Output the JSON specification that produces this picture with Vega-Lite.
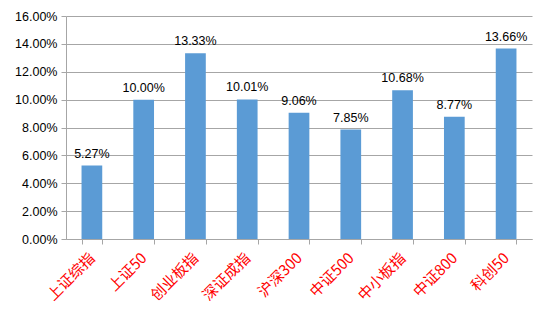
{
  "$schema": "https://vega.github.io/schema/vega-lite/v6.json",
  "width": 466,
  "height": 223,
  "autosize": {"type": "none"},
  "padding": {"left": 66, "top": 16, "right": 18, "bottom": 72},
  "background": "#ffffff",
  "data": {"values": [
    {"name": "上证综指", "value": 0.0527},
    {"name": "上证50", "value": 0.1000},
    {"name": "创业板指", "value": 0.1333},
    {"name": "深证成指", "value": 0.1001},
    {"name": "沪深300", "value": 0.0906},
    {"name": "中证500", "value": 0.0785},
    {"name": "中小板指", "value": 0.1068},
    {"name": "中证800", "value": 0.0877},
    {"name": "科创50", "value": 0.1366}
  ]},
  "encoding": {
    "x": {"field": "name", "type": "nominal", "sort": null,
      "scale": {"paddingInner": 0.6, "paddingOuter": 0.3},
      "axis": {"title": null, "labelAngle": -45, "labelAlign": "right", "labelBaseline": "middle",
        "labelColor": "#ff0000", "labelFont": "Noto Sans CJK SC", "labelFontSize": 15,
        "labelPadding": 11, "tickBand": "extent", "tickSize": 5, "tickColor": "#a6a6a6",
        "domainColor": "#a6a6a6", "grid": false}},
    "y": {"field": "value", "type": "quantitative",
      "scale": {"domain": [0, 0.16], "nice": false},
      "axis": {"title": null, "format": ".2%", "values": [0, 0.02, 0.04, 0.06, 0.08, 0.1, 0.12, 0.14, 0.16],
        "labelFont": "Liberation Sans", "labelFontSize": 12.5, "labelColor": "#000000",
        "labelPadding": 4, "tickSize": 5, "tickColor": "#a6a6a6", "domainColor": "#a6a6a6",
        "gridColor": "#a6a6a6", "grid": true}}
  },
  "layer": [
    {"mark": {"type": "bar", "color": "#5b9bd5"}},
    {"mark": {"type": "text", "dy": -12, "font": "Liberation Sans", "fontSize": 12.5, "color": "#000000"},
      "encoding": {"text": {"field": "value", "type": "quantitative", "format": ".2%"}}}
  ],
  "config": {"view": {"stroke": null}}
}
